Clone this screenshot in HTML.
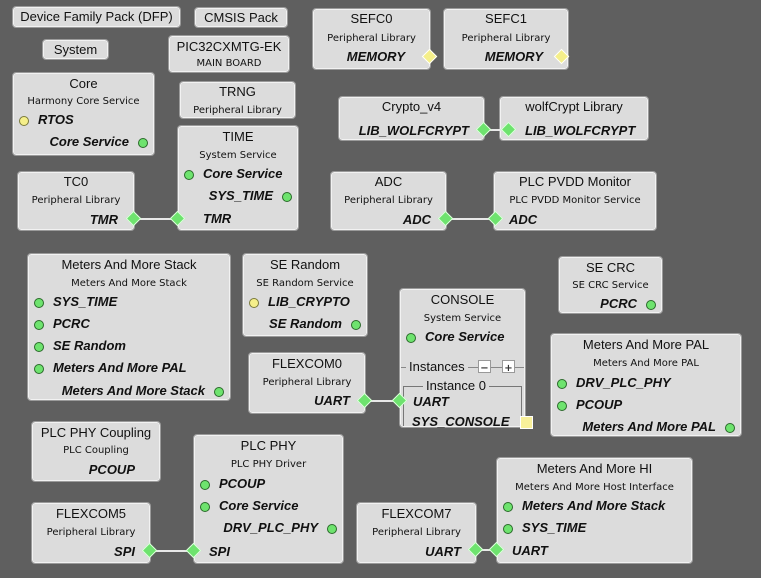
<!DOCTYPE html>
<html><head><meta charset="utf-8"><style>
body{margin:0;width:761px;height:578px;background:#5f5f5f;position:relative;overflow:hidden;font-family:"Liberation Sans",sans-serif;color:#111}
.b{position:absolute;background:#dcdcdc;border:1px solid #f2f2f2;outline:1px solid #9a9a9a;border-radius:3px;box-sizing:border-box}
.b>div{position:absolute;line-height:16px;white-space:nowrap}
.t{left:0;right:0;text-align:center;font-size:13px}
.s{left:0;right:0;text-align:center;font:10px "DejaVu Sans",sans-serif}
.pl{left:24px;font-weight:bold;font-style:italic;font-size:13px}
.pr{right:24px;font-weight:bold;font-style:italic;font-size:13px;text-align:right}
.b>.cl,.b>.cr{width:8px;height:8px;border-radius:50%;background:#6ee36e;border:1px solid #2a6a2a;line-height:0}
.cl{left:5px}.cr{right:5px}
.b>.y{background:#f5ef8a;border-color:#7a7a3a}
.d{position:absolute;width:9px;height:9px;background:#6ee36e;border:1px solid #e0ffe0;transform:rotate(45deg);z-index:3}
.dy{background:#f5ef8a;border-color:#fff}
.ln{position:absolute;height:2px;background:#e8e8e8;z-index:2}
.sm{position:absolute;width:11px;height:11px;background:#fff;border:1px solid #999;font:bold 10px/10px "DejaVu Sans";text-align:center;color:#333}
</style></head><body>

<div class="b" style="left:13px;top:7px;width:167px;height:20px"><div class="t" style="top:1px">Device Family Pack (DFP)</div></div>
<div class="b" style="left:195px;top:8px;width:92px;height:19px"><div class="t" style="top:1px">CMSIS Pack</div></div>
<div class="b" style="left:43px;top:40px;width:65px;height:19px"><div class="t" style="top:1px">System</div></div>
<div class="b" style="left:169px;top:36px;width:120px;height:36px"><div class="t" style="top:2px">PIC32CXMTG-EK</div><div class="s" style="top:19px">MAIN BOARD</div></div>

<div class="b" style="left:313px;top:9px;width:117px;height:60px"><div class="t" style="top:1px">SEFC0</div><div class="s" style="top:21px">Peripheral Library</div><div class="pr" style="top:39px">MEMORY</div></div>
<div class="d dy" style="left:424px;top:51px"></div>
<div class="b" style="left:444px;top:9px;width:124px;height:60px"><div class="t" style="top:1px">SEFC1</div><div class="s" style="top:21px">Peripheral Library</div><div class="pr" style="top:39px">MEMORY</div></div>
<div class="d dy" style="left:556px;top:51px"></div>

<div class="b" style="left:13px;top:73px;width:141px;height:82px"><div class="t" style="top:2px">Core</div><div class="s" style="top:20px">Harmony Core Service</div><div class="cl y" style="top:42px"></div><div class="pl" style="top:38px">RTOS</div><div class="pr" style="top:60px">Core Service</div><div class="cr" style="top:64px"></div></div>

<div class="b" style="left:180px;top:82px;width:115px;height:36px"><div class="t" style="top:1px">TRNG</div><div class="s" style="top:20px">Peripheral Library</div></div>

<div class="b" style="left:178px;top:126px;width:120px;height:104px"><div class="t" style="top:2px">TIME</div><div class="s" style="top:21px">System Service</div><div class="cl" style="top:43px"></div><div class="pl" style="top:39px">Core Service</div><div class="pr" style="top:61px">SYS_TIME</div><div class="cr" style="top:65px"></div><div class="pl" style="top:84px">TMR</div></div>

<div class="b" style="left:18px;top:172px;width:116px;height:58px"><div class="t" style="top:1px">TC0</div><div class="s" style="top:20px">Peripheral Library</div><div class="pr" style="top:39px;right:15px">TMR</div></div>
<div class="ln" style="left:134px;top:218px;width:44px"></div>
<div class="d" style="left:128px;top:213px"></div><div class="d" style="left:172px;top:213px"></div>

<div class="b" style="left:339px;top:97px;width:145px;height:43px"><div class="t" style="top:1px">Crypto_v4</div><div class="pr" style="top:25px;right:14px">LIB_WOLFCRYPT</div></div>
<div class="b" style="left:500px;top:97px;width:148px;height:43px"><div class="t" style="top:1px">wolfCrypt Library</div><div class="pl" style="top:25px">LIB_WOLFCRYPT</div></div>
<div class="ln" style="left:484px;top:129px;width:25px"></div>
<div class="d" style="left:478px;top:124px"></div><div class="d" style="left:503px;top:124px"></div>

<div class="b" style="left:331px;top:172px;width:115px;height:58px"><div class="t" style="top:1px">ADC</div><div class="s" style="top:20px">Peripheral Library</div><div class="pr" style="top:39px;right:14px">ADC</div></div>
<div class="b" style="left:494px;top:172px;width:162px;height:58px"><div class="t" style="top:1px">PLC PVDD Monitor</div><div class="s" style="top:20px">PLC PVDD Monitor Service</div><div class="pl" style="top:39px;left:14px">ADC</div></div>
<div class="ln" style="left:446px;top:218px;width:50px"></div>
<div class="d" style="left:440px;top:213px"></div><div class="d" style="left:490px;top:213px"></div>

<div class="b" style="left:28px;top:254px;width:202px;height:146px"><div class="t" style="top:2px">Meters And More Stack</div><div class="s" style="top:21px">Meters And More Stack</div>
<div class="cl" style="top:43px"></div><div class="pl" style="top:39px">SYS_TIME</div>
<div class="cl" style="top:65px"></div><div class="pl" style="top:61px">PCRC</div>
<div class="cl" style="top:87px"></div><div class="pl" style="top:83px">SE Random</div>
<div class="cl" style="top:109px"></div><div class="pl" style="top:105px">Meters And More PAL</div>
<div class="pr" style="top:128px">Meters And More Stack</div><div class="cr" style="top:132px"></div></div>

<div class="b" style="left:243px;top:254px;width:124px;height:82px"><div class="t" style="top:2px">SE Random</div><div class="s" style="top:21px">SE Random Service</div><div class="cl y" style="top:43px"></div><div class="pl" style="top:39px">LIB_CRYPTO</div><div class="pr" style="top:61px">SE Random</div><div class="cr" style="top:65px"></div></div>

<div class="b" style="left:559px;top:257px;width:103px;height:56px"><div class="t" style="top:2px">SE CRC</div><div class="s" style="top:20px">SE CRC Service</div><div class="pr" style="top:38px">PCRC</div><div class="cr" style="top:42px"></div></div>

<div class="b" style="left:400px;top:289px;width:125px;height:138px"><div class="t" style="top:2px">CONSOLE</div><div class="s" style="top:21px">System Service</div><div class="cl" style="top:43px"></div><div class="pl" style="top:39px">Core Service</div>
<div style="left:0;right:0;top:77px;height:1px;background:#888;line-height:0"></div>
<div style="left:5px;top:69px;font-size:13px;background:#dcdcdc;padding:0 3px">Instances</div>
<div class="sm" style="left:77px;top:70px">−</div><div class="sm" style="left:101px;top:70px">+</div>
<div style="left:2px;right:2px;top:96px;bottom:0;border:1px solid #777;border-bottom:none;line-height:0"></div>
<div style="left:22px;top:88px;font-size:13px;background:#dcdcdc;padding:0 3px">Instance 0</div>
<div class="pl" style="top:104px;left:12px">UART</div><div class="pl" style="top:124px;left:11px">SYS_CONSOLE</div></div>
<div style="position:absolute;left:520px;top:416px;width:11px;height:11px;background:#f8f09a;border:1px solid #fff"></div>

<div class="b" style="left:249px;top:353px;width:116px;height:60px"><div class="t" style="top:2px">FLEXCOM0</div><div class="s" style="top:21px">Peripheral Library</div><div class="pr" style="top:39px;right:14px">UART</div></div>
<div class="ln" style="left:365px;top:400px;width:36px"></div>
<div class="d" style="left:359px;top:395px"></div><div class="d" style="left:394px;top:395px"></div>

<div class="b" style="left:551px;top:334px;width:190px;height:102px"><div class="t" style="top:2px">Meters And More PAL</div><div class="s" style="top:21px">Meters And More PAL</div>
<div class="cl" style="top:44px"></div><div class="pl" style="top:40px">DRV_PLC_PHY</div>
<div class="cl" style="top:66px"></div><div class="pl" style="top:62px">PCOUP</div>
<div class="pr" style="top:84px">Meters And More PAL</div><div class="cr" style="top:88px"></div></div>

<div class="b" style="left:32px;top:422px;width:128px;height:59px"><div class="t" style="top:2px">PLC PHY Coupling</div><div class="s" style="top:20px">PLC Coupling</div><div class="pr" style="top:39px">PCOUP</div></div>

<div class="b" style="left:194px;top:435px;width:149px;height:128px"><div class="t" style="top:2px">PLC PHY</div><div class="s" style="top:21px">PLC PHY Driver</div>
<div class="cl" style="top:44px"></div><div class="pl" style="top:40px">PCOUP</div>
<div class="cl" style="top:66px"></div><div class="pl" style="top:62px">Core Service</div>
<div class="pr" style="top:84px">DRV_PLC_PHY</div><div class="cr" style="top:88px"></div>
<div class="pl" style="top:108px;left:14px">SPI</div></div>

<div class="b" style="left:32px;top:503px;width:118px;height:60px"><div class="t" style="top:2px">FLEXCOM5</div><div class="s" style="top:21px">Peripheral Library</div><div class="pr" style="top:40px;right:14px">SPI</div></div>
<div class="ln" style="left:150px;top:550px;width:44px"></div>
<div class="d" style="left:144px;top:545px"></div><div class="d" style="left:188px;top:545px"></div>

<div class="b" style="left:357px;top:503px;width:119px;height:60px"><div class="t" style="top:2px">FLEXCOM7</div><div class="s" style="top:21px">Peripheral Library</div><div class="pr" style="top:40px;right:14px">UART</div></div>
<div class="b" style="left:497px;top:458px;width:195px;height:105px"><div class="t" style="top:2px">Meters And More HI</div><div class="s" style="top:21px">Meters And More Host Interface</div>
<div class="cl" style="top:43px"></div><div class="pl" style="top:39px">Meters And More Stack</div>
<div class="cl" style="top:65px"></div><div class="pl" style="top:61px">SYS_TIME</div>
<div class="pl" style="top:84px;left:14px">UART</div></div>
<div class="ln" style="left:476px;top:549px;width:21px"></div>
<div class="d" style="left:470px;top:544px"></div><div class="d" style="left:491px;top:544px"></div>

</body></html>
